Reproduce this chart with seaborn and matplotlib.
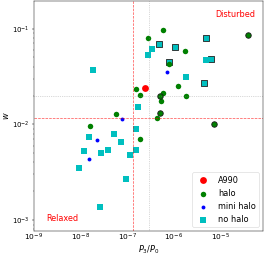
import numpy as np
import pandas as pd
import matplotlib
matplotlib.use('Agg')
import matplotlib.pyplot as plt
import seaborn as sns

plt.rcParams['font.size'] = 14

# A990
a990_x = [2.49e-7]
a990_w = [0.0238]

# halo
halo_x = [6.05e-7, 2.84e-7, 1.75e-6, 7.98e-7, 1.22e-6, 1.60e-7, 1.89e-7, 5.85e-7, 5.30e-7,
          1.82e-6, 4.36e-7, 5.70e-8, 1.61e-8, 1.86e-7]
halo_w = [0.097, 0.080, 0.058, 0.0428, 0.0254, 0.0232, 0.0205, 0.0213, 0.0175,
          0.0198, 0.01175, 0.0127, 0.00953, 0.00702]
# halo clusters with black edge
halo_edge_x = [3.83e-5, 5.12e-7, 5.22e-7, 7.29e-6]
halo_edge_w = [0.0855, 0.0198, 0.0131, 0.0102]

# mini halo
mini_x = [7.13e-7, 7.67e-8, 2.31e-8, 1.57e-8]
mini_w = [0.0351, 0.0113, 0.00692, 0.00437]

# no halo
nohalo_x = [3.52e-7, 2.80e-7, 5.02e-6, 1.88e-6, 1.73e-7, 1.87e-8, 1.55e-7, 5.25e-8, 7.42e-8,
            1.53e-8, 1.20e-8, 2.73e-8, 3.85e-8, 1.15e-7, 1.55e-7, 9.4e-9, 9.33e-8, 2.66e-8]
nohalo_w = [0.0614, 0.0528, 0.0471, 0.0310, 0.0152, 0.0374, 0.00887, 0.00796, 0.00649,
            0.00744, 0.00528, 0.00506, 0.00538, 0.00475, 0.00541, 0.00348, 0.00272, 0.00138]
# no halo clusters with black edge
nohalo_edge_x = [4.87e-7, 1.07e-6, 5.02e-6, 6.43e-6, 7.98e-7, 4.40e-6]
nohalo_edge_w = [0.0688, 0.0640, 0.080, 0.048, 0.0443, 0.0273]

# thresholds
p3_cut, p3_dot = 1.32e-7, 2.9e-7
w_cut, w_dot = 0.0116, 0.0198

fig = plt.figure(figsize=(6.4, 6.14), dpi=266 / 6.4)
ax = fig.add_axes([0.126, 0.094, 0.863, 0.902])

# edged no halo squares first (green dot sits on top of one)
sns.scatterplot(x=nohalo_edge_x, y=nohalo_edge_w, marker='s', color='c', s=85,
                edgecolor='0.15', linewidth=1.5, legend=False, ax=ax)

sns.scatterplot(x=a990_x, y=a990_w, color='red', s=140, linewidth=0, label='A990', ax=ax)
sns.scatterplot(x=halo_x, y=halo_w, color='green', s=90, linewidth=0, label='halo', ax=ax)
sns.scatterplot(x=mini_x, y=mini_w, color='blue', s=45, linewidth=0, label='mini halo', ax=ax)
sns.scatterplot(x=nohalo_x, y=nohalo_w, marker='s', color='c', s=85, linewidth=0,
                label='no halo', ax=ax)
sns.scatterplot(x=halo_edge_x, y=halo_edge_w, color='green', s=90,
                edgecolor='0.1', linewidth=1.5, legend=False, ax=ax)

ax.axvline(p3_cut, color='red', ls='--', lw=1.2, alpha=0.7)
ax.axhline(w_cut, color='red', ls='--', lw=1.2, alpha=0.7)
ax.axvline(p3_dot, color='gray', ls=':', lw=1.2, alpha=0.6)
ax.axhline(w_dot, color='gray', ls=':', lw=1.2, alpha=0.6)

ax.set_xscale('log')
ax.set_yscale('log')
ax.set_xlim(1e-9, 8.2e-5)
ax.set_ylim(7.7e-4, 0.195)
ax.tick_params(labelsize=13)
ax.tick_params(axis='y', labelsize=12)
ax.tick_params(axis='x', which='both', length=0, pad=1)

ax.text(0.965, 0.943, 'Disturbed', color='red', ha='right', va='center', transform=ax.transAxes)
ax.text(0.054, 0.057, 'Relaxed', color='red', ha='left', va='center', transform=ax.transAxes)

ax.set_xlabel('$P_3/P_0$', labelpad=1)
ax.set_ylabel('$w$', labelpad=2)
ax.legend(loc='lower right')

fig.savefig('out.png', dpi=266 / 6.4)
